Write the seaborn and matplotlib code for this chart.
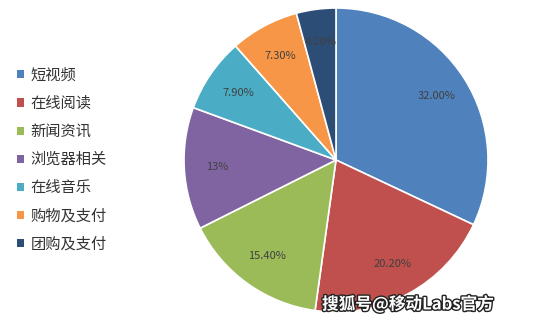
import matplotlib
matplotlib.use("Agg")
import matplotlib.pyplot as plt
import matplotlib.patheffects as pe
import numpy as np
import seaborn as sns
from matplotlib.patches import Patch

categories = ["短视频", "在线阅读", "新闻资讯", "浏览器相关", "在线音乐", "购物及支付", "团购及支付"]
values = [32.0, 20.2, 15.4, 13.0, 7.9, 7.3, 4.2]
labels = ["32.00%", "20.20%", "15.40%", "13%", "7.90%", "7.30%", "4.20%"]
colors = ["#4F81BD", "#C0504D", "#9BBB59", "#8064A2", "#4BACC6", "#F79646", "#2C4D75"]

sns.set_style("white")
plt.rcParams['font.family'] = ['Noto Sans CJK SC', 'DejaVu Sans']

fig = plt.figure(figsize=(5.44, 3.24), dpi=100)
ax = fig.add_axes([(336 - 152) / 544, (324 - 160 - 152) / 324, 304 / 544, 304 / 324])
wedges, texts = ax.pie(values, colors=colors, startangle=90, counterclock=False,
                       wedgeprops=dict(edgecolor="white", linewidth=1.2),
                       radius=1.0)
for w, lab in zip(wedges, labels):
    ang = np.deg2rad((w.theta1 + w.theta2) / 2)
    r = 0.78
    ax.text(r * np.cos(ang), r * np.sin(ang), lab, ha="center", va="center",
            fontsize=8, color="#404040")
ax.set_xlim(-1, 1)
ax.set_ylim(-1, 1)
ax.set_aspect("equal")
ax.axis("off")

handles = [Patch(facecolor=c, edgecolor="none") for c in colors]
fig.legend(handles, categories, loc="upper left", bbox_to_anchor=(3 / 544, 1 - 53 / 324),
           frameon=False, fontsize=11, handlelength=0.45, handleheight=0.45,
           handletextpad=0.45, labelspacing=0.73, labelcolor="#333333")

fig.text(322 / 544, 1 - 304 / 324, "搜狐号@移动Labs官方", fontsize=12, color="white",
         va="center", ha="left", fontweight="bold",
         path_effects=[pe.withStroke(linewidth=2, foreground="#222222")])

fig.savefig("out.png", dpi=100)
